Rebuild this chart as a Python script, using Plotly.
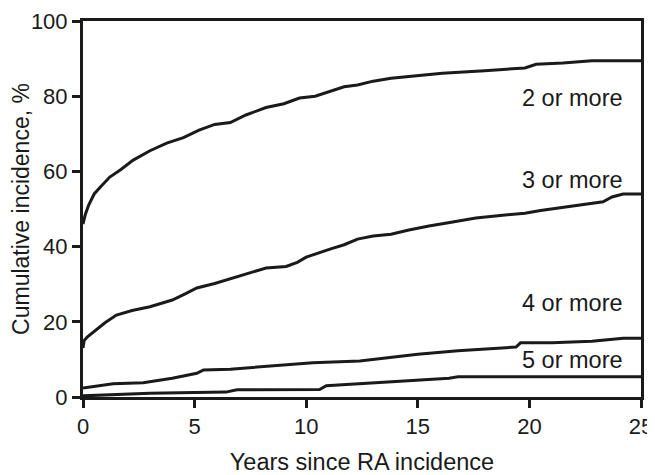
import plotly.graph_objects as go

# Years since RA incidence and cumulative incidence (%) for each curve
years_2 = [0, 0.1, 0.25, 0.5, 0.8, 1.2, 1.7, 2.25, 3.0, 3.75, 4.5, 5.2, 5.9, 6.6, 7.3, 8.2, 9.0, 9.7, 10.4, 11.1, 11.7, 12.3, 13.0, 13.8, 15.0, 16.1, 18.0, 19.8, 20.3, 21.5, 22.8, 25.0]
vals_2 = [46.0, 48.5, 51.0, 54.0, 56.0, 58.5, 60.5, 63.0, 65.5, 67.5, 69.0, 71.0, 72.5, 73.0, 75.0, 77.0, 78.0, 79.5, 80.0, 81.3, 82.5, 83.0, 84.0, 84.8, 85.5, 86.1, 86.8, 87.5, 88.5, 88.8, 89.4, 89.4]

years_3 = [0, 0.05, 0.2, 0.5, 1.0, 1.5, 2.2, 3.0, 4.0, 4.6, 5.1, 5.9, 6.7, 7.4, 8.2, 9.1, 9.6, 10.0, 10.6, 11.1, 11.7, 12.3, 13.0, 13.8, 14.6, 15.5, 16.5, 17.6, 18.7, 19.8, 20.5, 21.3, 22.3, 23.3, 23.7, 24.2, 25.0]
vals_3 = [13.0, 15.0, 16.0, 17.5, 19.8, 21.8, 23.0, 24.0, 25.8, 27.5, 29.0, 30.2, 31.6, 33.0, 34.3, 34.7, 35.8, 37.2, 38.5, 39.4, 40.5, 42.0, 42.8, 43.3, 44.4, 45.5, 46.5, 47.6, 48.3, 48.9, 49.6, 50.3, 51.0, 51.9, 53.2, 54.0, 54.0]

years_4 = [0, 0.7, 1.35, 2.7, 4.0, 5.1, 5.4, 6.6, 8.8, 10.3, 12.4, 13.8, 15.0, 16.8, 18.0, 19.4, 19.6, 21.0, 22.8, 24.2, 25.0]
vals_4 = [2.4, 3.0, 3.5, 3.8, 5.0, 6.3, 7.2, 7.4, 8.5, 9.1, 9.6, 10.6, 11.4, 12.3, 12.8, 13.3, 14.4, 14.4, 14.8, 15.6, 15.6]

years_5 = [0, 1.5, 3.0, 5.0, 6.4, 6.9, 10.6, 10.9, 11.8, 13.0, 14.5, 16.4, 16.8, 25.0]
vals_5 = [0.3, 0.7, 1.0, 1.2, 1.3, 1.9, 2.0, 3.0, 3.3, 3.8, 4.3, 5.0, 5.4, 5.4]

curve_labels = ["2 or more", "3 or more", "4 or more", "5 or more"]
label_y = [79.5, 57.7, 25.0, 9.8]

x_ticks = [0, 5, 10, 15, 20, 25]
y_ticks = [0, 20, 40, 60, 80, 100]

FONT = "Liberation Sans, Arial, Helvetica, sans-serif"
INK = "#1a1a1a"

fig = go.Figure()
for xs, ys in [(years_2, vals_2), (years_3, vals_3), (years_4, vals_4), (years_5, vals_5)]:
    fig.add_trace(go.Scatter(x=xs, y=ys, mode="lines", line=dict(color=INK, width=3),
                             showlegend=False, hoverinfo="skip", cliponaxis=False))

for lab, yv in zip(curve_labels, label_y):
    fig.add_annotation(x=24.3, y=yv, text=lab, showarrow=False, xanchor="right", yanchor="middle",
                       font=dict(family=FONT, size=23.5, color=INK))

fig.update_layout(
    width=647, height=467,
    margin=dict(l=75, r=14, t=13, b=78),
    plot_bgcolor="white", paper_bgcolor="white",
    font=dict(family=FONT, color=INK),
    xaxis=dict(range=[0, 25], tickvals=x_ticks, ticks="outside", ticklen=8, tickwidth=2.5, tickcolor=INK,
               showline=True, linewidth=3, linecolor=INK, mirror=True, showgrid=False, zeroline=False,
               automargin=False,
               tickfont=dict(size=22, family=FONT, color=INK),
               title=dict(text="Years since RA incidence", font=dict(size=23.5, family=FONT, color=INK), standoff=18)),
    yaxis=dict(range=[0, 100], tickvals=y_ticks, ticks="outside", ticklen=8, tickwidth=2.5, tickcolor=INK,
               showline=True, linewidth=3, linecolor=INK, mirror=True, showgrid=False, zeroline=False,
               automargin=False,
               tickfont=dict(size=22, family=FONT, color=INK),
               title=dict(text="Cumulative incidence, %", font=dict(size=23, family=FONT, color=INK), standoff=0)),
)

fig.write_html("out.html")
